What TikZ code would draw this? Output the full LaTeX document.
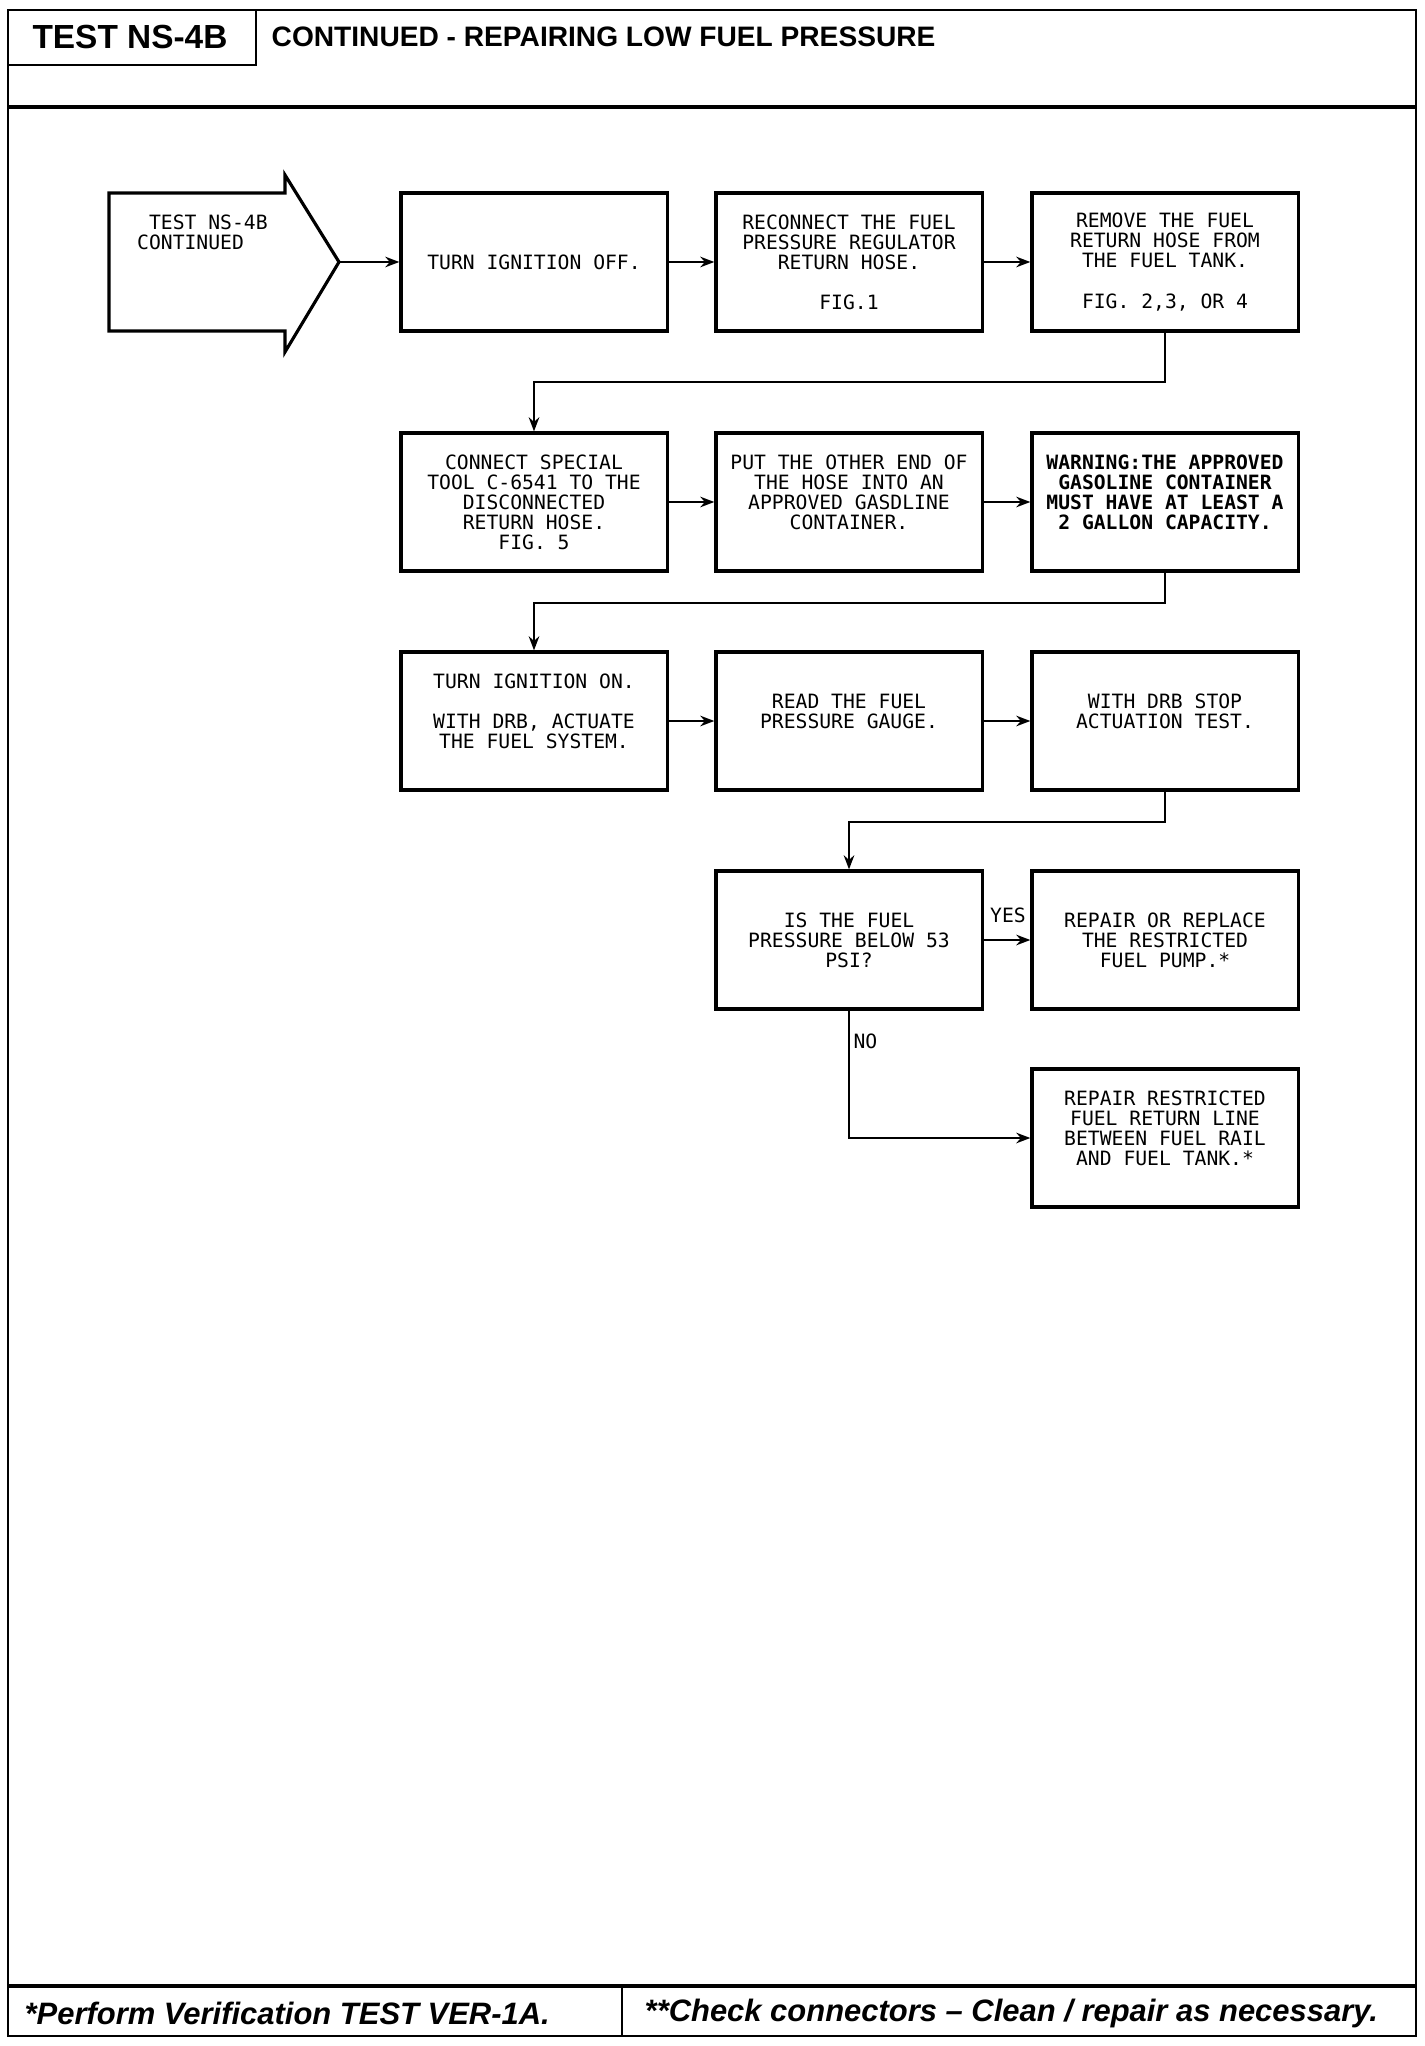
\documentclass[tikz,border=0pt]{standalone}
\usepackage{fontspec}
\setmainfont{Liberation Sans}
\newfontfamily\plotfont{DejaVu Sans Mono}
\usetikzlibrary{arrows.meta}
\tikzset{
  box/.style={draw, line width=0.9pt, minimum width=2.66cm, minimum height=1.38cm,
    inner sep=0pt, align=center, font={\plotfont\fontsize{5.6pt}{5.7pt}\selectfont}},
  lbl/.style={inner sep=1pt, font={\plotfont\fontsize{5.6pt}{5.7pt}\selectfont}},
  link/.style={line width=0.6pt, -{Stealth[length=4pt,width=3pt]}},
}
\begin{document}
\begin{tikzpicture}[x=0.01cm, y=-0.01cm]
\useasboundingbox (0,0) rectangle (1424,2046);
% frame and header
\draw[line width=0.8pt] (8,10) rectangle (1416,2036);
\draw[line width=0.8pt] (8,65) -| (256,10);
\draw[line width=1.4pt] (8,107) -- (1416,107);
\node (test) at (130,37) {\fontsize{9.5pt}{10pt}\selectfont\bfseries TEST NS-4B};
\node[anchor=west, inner sep=0pt] (title) at (271,37) {\fontsize{8pt}{9pt}\selectfont\bfseries CONTINUED - REPAIRING LOW FUEL PRESSURE};
% footer
\draw[line width=1pt] (8,1986) -- (1416,1986);
\draw[line width=0.8pt] (622,1986) -- (622,2036);
\node[anchor=west, inner sep=0pt] (note1) at (24,2013) {\fontsize{8.8pt}{10pt}\selectfont\bfseries\itshape *Perform Verification TEST VER-1A.};
\node[anchor=west, inner sep=0pt] (note2) at (644,2013) {\fontsize{8.8pt}{10pt}\selectfont\bfseries\itshape **Check connectors -- Clean / repair as necessary.};
% start arrow
\draw[line width=0.9pt] (285,193) -- (109,193) -- (109,331) -- (285,331) -- (285,352) -- (339,262) -- (285,175) -- cycle;
\coordinate (tip) at (339,262);
\node[lbl, anchor=west, align=left] (start) at (133,232) {\ TEST NS-4B\\CONTINUED};
% row 1
\node[box] (a1) at (534,262) {TURN IGNITION OFF.};
\node[box] (a2) at (849,262) {RECONNECT THE FUEL\\PRESSURE REGULATOR\\RETURN HOSE.\\[5.7pt]FIG.1};
\node[box] (a3) at (1165,262) {REMOVE THE FUEL\\RETURN HOSE FROM\\THE FUEL TANK.\\[5.7pt]FIG. 2,3, OR 4};
% row 2
\node[box] (b1) at (534,502) {CONNECT SPECIAL\\TOOL C-6541 TO THE\\DISCONNECTED\\RETURN HOSE.\\FIG. 5};
\node[box] (b2) at (849,502) {PUT THE OTHER END OF\\THE HOSE INTO AN\\APPROVED GASDLINE\\CONTAINER.\\ \mbox{}};
\node[box] (b3) at (1165,502) {\bfseries WARNING:THE APPROVED\\\bfseries GASOLINE CONTAINER\\\bfseries MUST HAVE AT LEAST A\\\bfseries 2 GALLON CAPACITY.\\ \mbox{}};
% row 3
\node[box] (c1) at (534,721) {TURN IGNITION ON.\\[5.7pt]WITH DRB, ACTUATE\\THE FUEL SYSTEM.\\ \mbox{}};
\node[box] (c2) at (849,721) {READ THE FUEL\\PRESSURE GAUGE.\\ \mbox{}};
\node[box] (c3) at (1165,721) {WITH DRB STOP\\ACTUATION TEST.\\ \mbox{}};
% row 4
\node[box] (d1) at (849,940) {IS THE FUEL\\PRESSURE BELOW 53\\PSI?};
\node[box] (d2) at (1165,940) {REPAIR OR REPLACE\\THE RESTRICTED\\FUEL PUMP.*};
\node[box] (d3) at (1165,1138) {REPAIR RESTRICTED\\FUEL RETURN LINE\\BETWEEN FUEL RAIL\\AND FUEL TANK.*\\ \mbox{}};
% connectors
\draw[link] (tip) -- (a1);
\draw[link] (a1) -- (a2);
\draw[link] (a2) -- (a3);
\draw[link] (a3.south) -- ++(0,49) -| (b1.north);
\draw[link] (b1) -- (b2);
\draw[link] (b2) -- (b3);
\draw[link] (b3.south) -- ++(0,30) -| (c1.north);
\draw[link] (c1) -- (c2);
\draw[link] (c2) -- (c3);
\draw[link] (c3.south) -- ++(0,30) -| (d1.north);
\draw[link] (d1) -- node[lbl, anchor=south east, pos=1, yshift=3.5pt] (yes) {YES} (d2);
\draw[link] (d1.south) |- node[lbl, right, pos=0.12] (no) {NO} (d3.west);
\end{tikzpicture}
\end{document}
